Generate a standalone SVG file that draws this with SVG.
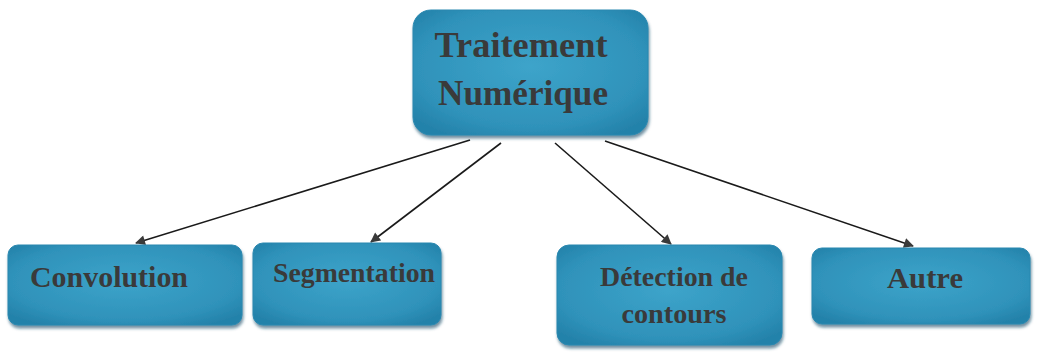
<svg xmlns="http://www.w3.org/2000/svg" width="1037" height="353" viewBox="0 0 1037 353">
  <defs>
    <radialGradient id="boxFill" cx="50%" cy="45%" r="65%">
      <stop offset="0" stop-color="#3da4ca"/>
      <stop offset="0.75" stop-color="#2f92ba"/>
      <stop offset="1" stop-color="#2482aa"/>
    </radialGradient>
    <filter id="shadow" x="-10%" y="-10%" width="125%" height="130%">
      <feDropShadow dx="1" dy="3" stdDeviation="1.5" flood-color="#0d4a66" flood-opacity="0.6"/>
    </filter>
    <marker id="arrow" viewBox="0 0 10 10" refX="9" refY="5" markerWidth="11" markerHeight="10" orient="auto-start-reverse" markerUnits="userSpaceOnUse">
      <path d="M0,0 L10,5 L0,10 z" fill="#3a3a3a"/>
    </marker>
  </defs>
  <style>
    .box { fill: url(#boxFill); stroke: #2a88b0; stroke-width: 1; filter: url(#shadow); }
    .label { font-family: "Liberation Serif", "Times New Roman", serif; font-weight: bold; fill: #3a3a3a; text-anchor: middle; }
    .edge { stroke: #1a1a1a; stroke-width: 1.6; fill: none; marker-end: url(#arrow); }
  </style>
  <rect width="1037" height="353" fill="#ffffff"/>

  <g id="connectors">
    <line class="edge" x1="470" y1="140" x2="136" y2="243"/>
    <line class="edge" x1="501" y1="143" x2="371" y2="242"/>
    <line class="edge" x1="555" y1="143" x2="671" y2="244"/>
    <line class="edge" x1="605" y1="141" x2="913" y2="246"/>
  </g>

  <g id="node-traitement">
    <rect class="box" x="413" y="10" width="235" height="125" rx="18"/>
    <text class="label" x="521" y="57" font-size="35" textLength="173" lengthAdjust="spacingAndGlyphs">Traitement</text>
    <text class="label" x="523" y="105" font-size="35" textLength="170" lengthAdjust="spacingAndGlyphs">Numérique</text>
  </g>

  <g id="node-convolution">
    <rect class="box" x="8" y="245" width="234" height="80" rx="10"/>
    <text class="label" x="109" y="287" font-size="30" textLength="158" lengthAdjust="spacingAndGlyphs">Convolution</text>
  </g>

  <g id="node-segmentation">
    <rect class="box" x="253" y="243" width="188" height="82" rx="10"/>
    <text class="label" x="354" y="282" font-size="28" textLength="162" lengthAdjust="spacingAndGlyphs">Segmentation</text>
  </g>

  <g id="node-detection">
    <rect class="box" x="557" y="245" width="225" height="100" rx="12"/>
    <text class="label" x="674" y="286" font-size="28" textLength="148" lengthAdjust="spacingAndGlyphs">Détection de</text>
    <text class="label" x="674" y="323" font-size="28" textLength="105" lengthAdjust="spacingAndGlyphs">contours</text>
  </g>

  <g id="node-autre">
    <rect class="box" x="812" y="248" width="218" height="76" rx="10"/>
    <text class="label" x="925" y="288" font-size="30" textLength="76" lengthAdjust="spacingAndGlyphs">Autre</text>
  </g>
</svg>
